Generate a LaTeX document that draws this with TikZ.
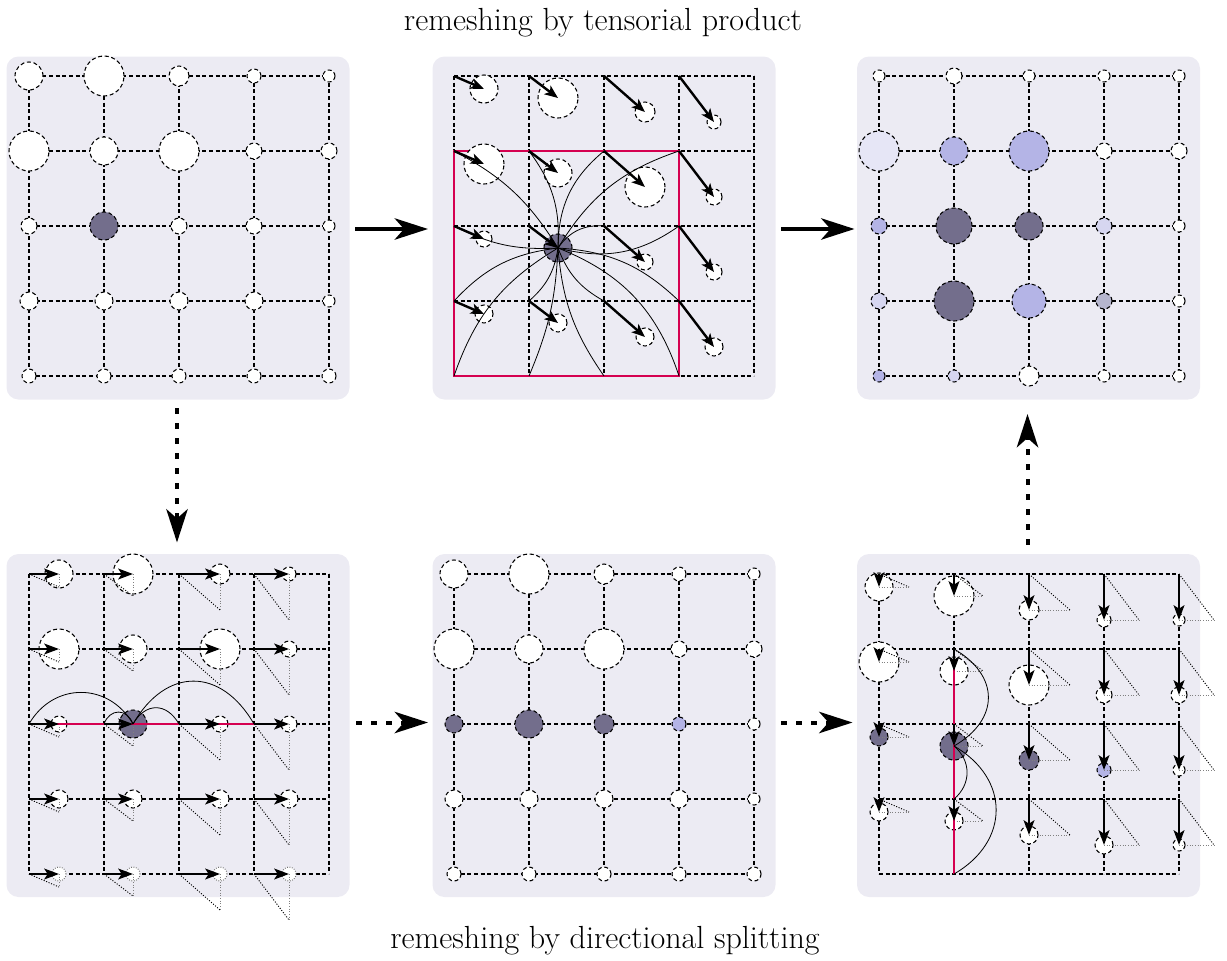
\documentclass[tikz,border=0pt]{standalone}
\usetikzlibrary{arrows.meta,calc}

\definecolor{panelbg}{RGB}{236,235,243}
\definecolor{cW}{RGB}{255,255,255}
\definecolor{cD}{RGB}{115,110,140}
\definecolor{cL}{RGB}{180,180,230}
\definecolor{cM}{RGB}{214,214,240}
\definecolor{cP}{RGB}{230,230,246}
\definecolor{cG}{RGB}{182,182,206}
\definecolor{cR}{RGB}{213,0,80}

% radius/colour of each particle, one group per row
\newcommand\initparts{{14/cW,20/cW,10/cW,7/cW,6/cW},{20/cW,14/cW,20/cW,8/cW,8/cW},{8/cW,14/cD,8/cW,8/cW,6/cW},{9/cW,9/cW,9/cW,9/cW,6/cW},{7/cW,7/cW,7/cW,7/cW,7/cW}}
\newcommand\splitparts{{14/cW,20/cW,10/cW,7/cW,6/cW},{20/cW,14/cW,20/cW,8/cW,8/cW},{9/cD,14/cD,10/cD,7/cL,6/cW},{9/cW,9/cW,9/cW,9/cW,6/cW},{7/cW,7/cW,7/cW,7/cW,7/cW}}
\newcommand\finalparts{{6/cW,8/cW,6/cW,6/cW,6/cW},{20/cP,14/cL,20/cL,8/cW,8/cW},{8/cL,18/cD,14/cD,8/cM,6/cW},{8/cM,20/cD,17/cL,8/cG,6/cW},{6/cL,6/cM,10/cW,6/cW,6/cW}}
% displacement per column
\newcommand\velx{{30,29,41,35,35}}
\newcommand\vely{{13,22,36,46,46}}

\tikzset{every picture/.style={line width=0.75pt}}
\tikzset{
  panel/.style={fill=panelbg, draw=none, rounded corners=9pt, minimum width=257.25pt, minimum height=257.25pt, inner sep=0pt},
  title/.style={font=\fontsize{24}{28}\selectfont, inner sep=0pt},
  gridline/.style={dash pattern=on 3pt off 2pt, line width=0.8pt},
  part/.style={circle, draw, dash pattern=on 3pt off 2pt, line width=0.8pt, inner sep=0pt, outer sep=0pt},
  ghost/.style={dash pattern=on 0.6pt off 1.2pt, draw=black!55, fill=white},
  vel/.style={line width=1.8pt, -{Stealth[length=10pt,width=8pt,inset=2.5pt]}},
  velsplit/.style={line width=2pt, -{Stealth[length=11pt,width=8pt,inset=2.5pt]}},
  diag/.style={dash pattern=on 0.8pt off 1.2pt, line width=0.7pt},
  proj/.style={dash pattern=on 0.8pt off 1.2pt, line width=0.7pt, black!50},
  kern/.style={line width=0.6pt},
  stencil/.style={cR, line width=1.5pt},
  bigarrow/.style={line width=3pt, -{Stealth[length=25pt,width=16pt,inset=7pt]}},
  bigdash/.style={bigarrow, dash pattern=on 4.5pt off 6.75pt},
}

\begin{document}
\begin{tikzpicture}[x=0.75pt,y=0.75pt,yscale=-1,xscale=1]
\useasboundingbox (0,0) rectangle (1227,960);

\node[panel] (pA) at (178,228) {};
\node[panel] (pB) at (604,228) {};
\node[panel] (pC) at (1028.5,228) {};
\node[panel] (pD) at (178,725.5) {};
\node[panel] (pE) at (604,725.5) {};
\node[panel] (pF) at (1028.5,725.5) {};

\node[title, anchor=base] (ttop) at (603,30) {remeshing by tensorial product};
\node[title, anchor=base] (tbot) at (605,948) {remeshing by directional splitting};

% grids
\foreach \P/\ox/\oy in {A/29/76,B/454/76,C/879/76,D/29/574,E/454/574,F/879/574}{
  \foreach \i in {0,...,4}
    \foreach \j in {0,...,4}
      \coordinate (\P-\i-\j) at ({\ox+75*\i},{\oy+75*\j});
  \foreach \k in {0,...,4}{
    \draw[gridline] (\P-0-\k) -- (\P-4-\k);
    \draw[gridline] (\P-\k-0) -- (\P-\k-4);
  }
}

% initial particles
\foreach \row [count=\j from 0] in \initparts
  \foreach \r/\c [count=\i from 0] in \row
    \node[part, fill=\c, minimum size=1.5*\r] (a-\i-\j) at (A-\i-\j) {};

% tensorial product
\draw[stencil] (B-0-1) rectangle (B-3-4);
\foreach \row [count=\j from 0] in \initparts
  \foreach \r/\c [count=\i from 0] in \row {
    \ifnum\i<4 \ifnum\j<4
      \pgfmathsetmacro\dx{\velx[\i]}
      \pgfmathsetmacro\dy{\vely[\i]}
      \node[part, fill=\c, minimum size=1.5*\r] (b-\i-\j) at ($(B-\i-\j)+(\dx,\dy)$) {};
      \draw[vel] (B-\i-\j) -- (b-\i-\j.center);
    \fi\fi
  }
\foreach \i/\j/\b in {0/1/-15,1/1/-20,2/1/25,3/1/20,0/2/15,2/2/30,3/2/-25,0/3/-20,1/3/20,2/3/-20,3/3/20,0/4/-20,1/4/10,2/4/-15,3/4/25}
  \draw[kern] (B-\i-\j) to[bend left=\b] (b-1-2.center);

% remeshed particles
\foreach \row [count=\j from 0] in \finalparts
  \foreach \r/\c [count=\i from 0] in \row
    \node[part, fill=\c, minimum size=1.5*\r] (c-\i-\j) at (C-\i-\j) {};

% splitting, x direction
\foreach \row [count=\j from 0] in \initparts
  \foreach \r/\c [count=\i from 0] in \row {
    \ifnum\i<4
      \pgfmathsetmacro\dx{\velx[\i]}
      \pgfmathsetmacro\dy{\vely[\i]}
      \ifnum\j<4
        \node[part, fill=\c, minimum size=1.5*\r] (d-\i-\j) at ($(D-\i-\j)+(\dx,0)$) {};
      \else
        \node[part, ghost, minimum size=1.5*\r] (d-\i-\j) at ($(D-\i-\j)+(\dx,0)$) {};
      \fi
      \coordinate (dt-\i-\j) at ($(D-\i-\j)+(\dx,\dy)$);
      \draw[diag] (D-\i-\j) -- (dt-\i-\j);
      \draw[proj] (d-\i-\j.center) -- (dt-\i-\j);
    \fi
  }
\draw[stencil, line width=2.2pt] (D-0-2) -- (D-3-2);
\foreach \i/\b/\l in {0/60/1.2,1/70/1.5,2/-60/1.4,3/-60/1.4}
  \draw[kern] (d-1-2.center) to[bend left=\b, looseness=\l] (D-\i-2);
\foreach \i in {0,...,3}
  \foreach \j in {0,...,4}
    \draw[velsplit] (D-\i-\j) -- (d-\i-\j.center);

% after x sweep
\foreach \row [count=\j from 0] in \splitparts
  \foreach \r/\c [count=\i from 0] in \row
    \node[part, fill=\c, minimum size=1.5*\r] (e-\i-\j) at (E-\i-\j) {};

% splitting, y direction
\foreach \row [count=\j from 0] in \splitparts
  \foreach \r/\c [count=\i from 0] in \row {
    \ifnum\j<4
      \pgfmathsetmacro\dx{\velx[\i]}
      \pgfmathsetmacro\dy{\vely[\i]}
      \node[part, fill=\c, minimum size=1.5*\r] (f-\i-\j) at ($(F-\i-\j)+(0,\dy)$) {};
      \coordinate (ft-\i-\j) at ($(F-\i-\j)+(\dx,\dy)$);
      \draw[diag] (F-\i-\j) -- (ft-\i-\j);
      \draw[proj] (f-\i-\j.center) -- (ft-\i-\j);
    \fi
  }
\draw[stencil, line width=2.2pt] (F-1-1) -- (F-1-4);
\foreach \j/\b/\l in {1/60/1.4,3/-50/1.1,4/-60/1.3}
  \draw[kern] (f-1-2.center) to[bend left=\b, looseness=\l] (F-1-\j);
\foreach \i in {0,...,4}
  \foreach \j in {0,...,3}
    \draw[velsplit] (F-\i-\j) -- (f-\i-\j.center);

% steps
\draw[bigarrow] ($(pA.east)+(5,1)$) -- ($(pB.west)+(-4,1)$);
\draw[bigarrow] ($(pB.east)+(5,1)$) -- ($(pC.west)+(-2,1)$);
\draw[bigdash] ($(pA.south)+(-1,8)$) -- ($(pD.north)+(-1,-11)$);
\draw[bigdash] ($(pD.east)+(6,-3)$) -- ($(pE.west)+(-4,-3)$);
\draw[bigdash] ($(pE.east)+(5,-3)$) -- ($(pF.west)+(-4,-3)$);
\draw[bigdash] ($(pF.north)+(-1,-9)$) -- ($(pC.south)+(-1,14)$);

\end{tikzpicture}
\end{document}
